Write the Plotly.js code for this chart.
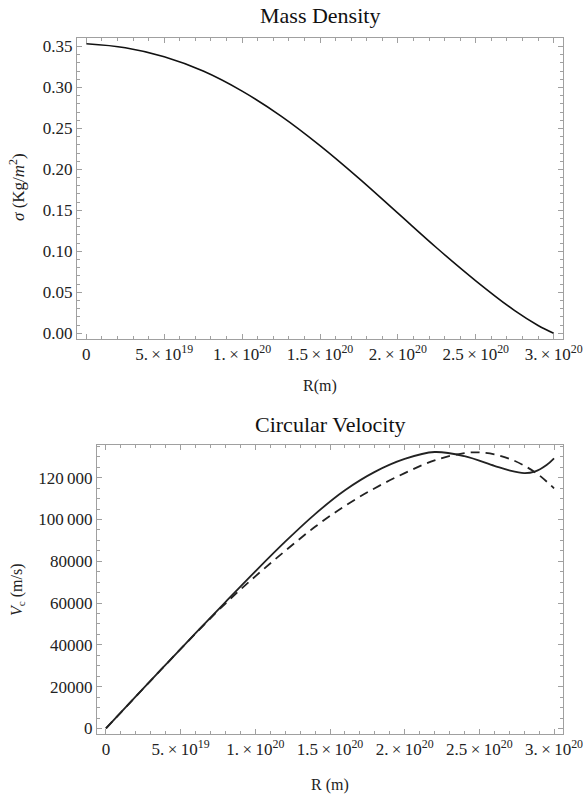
<!DOCTYPE html>
<html>
<head>
<meta charset="utf-8">
<script src="https://cdn.plot.ly/plotly-3.0.1.min.js"></script>
<style>html,body{margin:0;padding:0;background:#fff;}#chart{width:583px;height:798px;}</style>
</head>
<body>
<div id="chart"></div>
<script>
// ---- Data ----
// Mass density
const densityR = [0, 0.25e20, 0.5e20, 0.75e20, 1.0e20, 1.25e20, 1.5e20, 1.75e20, 2.0e20, 2.25e20, 2.5e20, 2.75e20, 2.9e20, 3.0e20];
const densitySigma = [0.3533, 0.3485, 0.3375, 0.3200, 0.2955, 0.2650, 0.2290, 0.1890, 0.1465, 0.1040, 0.0640, 0.0275, 0.0095, 0.0];

// Circular velocity
const velR = [0, 0.2e20, 0.4e20, 0.6e20, 0.8e20, 1.0e20, 1.2e20, 1.4e20, 1.6e20, 1.8e20, 2.0e20, 2.2e20, 2.4e20, 2.6e20, 2.7e20, 2.8e20, 2.87e20, 2.95e20, 3.0e20];
const velSolid = [0, 15300, 30500, 45600, 60500, 75200, 89400, 102600, 114000, 122800, 129000, 132300, 130300, 125700, 123500, 122200, 122900, 126100, 129300];
const velDashR = [0, 0.2e20, 0.4e20, 0.6e20, 0.8e20, 1.0e20, 1.2e20, 1.4e20, 1.6e20, 1.8e20, 2.0e20, 2.2e20, 2.4e20, 2.5e20, 2.6e20, 2.7e20, 2.8e20, 2.9e20, 3.0e20];
const velDashed = [0, 15300, 30500, 45500, 59800, 72800, 85000, 96500, 106500, 115000, 122200, 128300, 131800, 132100, 131200, 129100, 125800, 121200, 114900];

// Tick labels
const xTickVals = [0, 5e19, 1e20, 1.5e20, 2e20, 2.5e20, 3e20];
const xTickText = ['0', '5.\u2009×\u200910<sup>19</sup>', '1.\u2009×\u200910<sup>20</sup>', '1.5\u2009×\u200910<sup>20</sup>', '2.\u2009×\u200910<sup>20</sup>', '2.5\u2009×\u200910<sup>20</sup>', '3.\u2009×\u200910<sup>20</sup>'];
const sigmaTickVals = [0, 0.05, 0.10, 0.15, 0.20, 0.25, 0.30, 0.35];
const sigmaTickText = ['0.00', '0.05', '0.10', '0.15', '0.20', '0.25', '0.30', '0.35'];
const velTickVals = [0, 20000, 40000, 60000, 80000, 100000, 120000];
const velTickText = ['0', '20000', '40000', '60000', '80000', '100\u2009000', '120\u2009000'];

// ---- Figure ----
const W = 583, H = 798;
const serif = 'Liberation Serif';
const frameColor = '#a0a0a0';

function px2x(p) { return p / W; }
function px2y(p) { return 1 - p / H; }

function baseAxis(extra, minorDtick) {
  return Object.assign({
    showline: true, linecolor: frameColor, linewidth: 1, mirror: 'ticks',
    ticks: 'inside', ticklen: 5, tickcolor: frameColor, tickwidth: 1,
    showgrid: false, zeroline: false, tickmode: 'array', ticklabeloverflow: 'allow',
    tickfont: {family: serif, size: 17, color: '#222'},
    minor: {ticks: 'inside', ticklen: 3, tickcolor: frameColor, tickwidth: 1, showgrid: false, dtick: minorDtick, tick0: 0}
  }, extra);
}

const traces = [
  {x: densityR, y: densitySigma, type: 'scatter', mode: 'lines', xaxis: 'x', yaxis: 'y',
   line: {color: '#111', width: 1.6, shape: 'spline', smoothing: 1}, hoverinfo: 'skip'},
  {x: velR, y: velSolid, type: 'scatter', mode: 'lines', xaxis: 'x2', yaxis: 'y2',
   line: {color: '#222', width: 1.8, shape: 'spline', smoothing: 1}, hoverinfo: 'skip'},
  {x: velDashR, y: velDashed, type: 'scatter', mode: 'lines', xaxis: 'x2', yaxis: 'y2',
   line: {color: '#222', width: 1.8, dash: '9px,6px', shape: 'spline', smoothing: 1}, hoverinfo: 'skip'}
];

const layout = {
  width: W, height: H, showlegend: false,
  margin: {l: 0, r: 0, t: 0, b: 0, pad: 0},
  paper_bgcolor: '#fff', plot_bgcolor: '#fff',
  font: {family: serif, color: '#222'},
  xaxis: baseAxis({domain: [px2x(77), px2x(563)], anchor: 'y', range: [-6e18, 3.06e20],
    tickvals: xTickVals, ticktext: xTickText}, 1e19),
  yaxis: baseAxis({domain: [px2y(339), px2y(38)], anchor: 'x', range: [-0.00707, 0.3604],
    tickvals: sigmaTickVals, ticktext: sigmaTickText}, 0.01),
  xaxis2: baseAxis({domain: [px2x(97), px2x(563)], anchor: 'y2', range: [-6e18, 3.06e20],
    tickvals: xTickVals, ticktext: xTickText}, 1e19),
  yaxis2: baseAxis({domain: [px2y(734), px2y(445)], anchor: 'x2', range: [-2660, 135660],
    tickvals: velTickVals, ticktext: velTickText}, 5000),
  annotations: [
    {text: 'Mass Density', x: px2x(320), y: px2y(15), xref: 'paper', yref: 'paper', showarrow: false,
     xanchor: 'center', yanchor: 'middle', font: {family: serif, size: 22, color: '#111'}},
    {text: 'Circular Velocity', x: px2x(330), y: px2y(424), xref: 'paper', yref: 'paper', showarrow: false,
     xanchor: 'center', yanchor: 'middle', font: {family: serif, size: 22, color: '#111'}},
    {text: 'R(m)', x: px2x(320), y: px2y(386), xref: 'paper', yref: 'paper', showarrow: false,
     xanchor: 'center', yanchor: 'middle', font: {family: serif, size: 16, color: '#222'}},
    {text: 'R (m)', x: px2x(330), y: px2y(785), xref: 'paper', yref: 'paper', showarrow: false,
     xanchor: 'center', yanchor: 'middle', font: {family: serif, size: 16, color: '#222'}},
    {text: '<i>σ</i> (Kg/<i>m</i><sup>2</sup>)', x: px2x(17), y: px2y(187), xref: 'paper', yref: 'paper', showarrow: false,
     textangle: -90, xanchor: 'center', yanchor: 'middle', font: {family: serif, size: 17, color: '#222'}},
    {text: '<i>V</i><sub>c</sub> (m/s)', x: px2x(17), y: px2y(590), xref: 'paper', yref: 'paper', showarrow: false,
     textangle: -90, xanchor: 'center', yanchor: 'middle', font: {family: serif, size: 16, color: '#222'}}
  ]
};

Plotly.newPlot('chart', traces, layout, {staticPlot: true, displayModeBar: false});
</script>
</body>
</html>
